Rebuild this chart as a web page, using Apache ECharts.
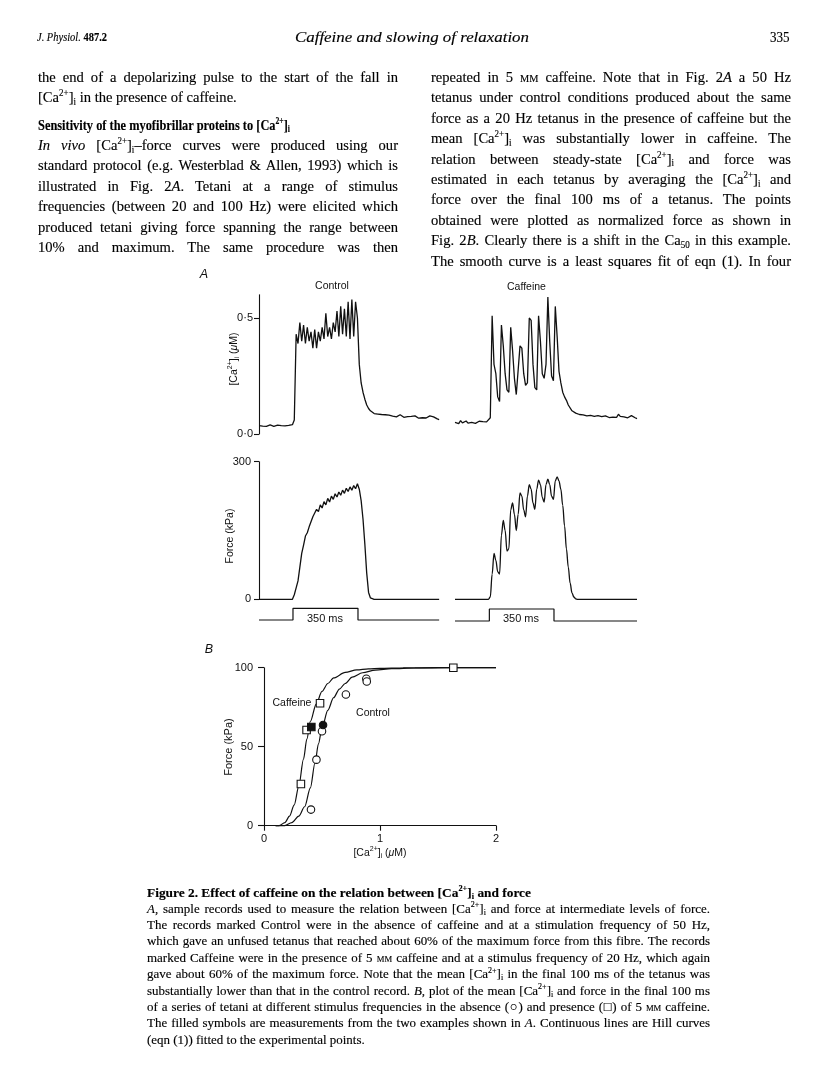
<!DOCTYPE html>
<html><head><meta charset="utf-8">
<title>Caffeine and slowing of relaxation</title>
<script src="https://cdn.jsdelivr.net/npm/echarts@6/dist/echarts.min.js"></script>
<style>
html,body{margin:0;padding:0;background:#fff}
#page{position:relative;width:816px;height:1088px;overflow:hidden;background:#fff}
#chart{position:absolute;left:0;top:0;width:816px;height:1088px}
.ln{position:absolute;white-space:nowrap;font-family:"Liberation Serif","Times New Roman",serif;color:#000;-webkit-text-stroke:0.15px #000;transform-origin:0 50%}
.ln sup,.ln sub{font-size:0.62em;line-height:0;position:relative;vertical-align:baseline}
.ln sup{top:-0.62em}.ln sub{top:0.28em}
.sc{font-variant:small-caps}
</style></head>
<body><div id="page"><div id="chart"></div></div>
<script>
// ---------------- DATA ----------------
const SAMPLE_MS = 10;               // sampling step of the traces (ms)
const TRACE_MAX_MS = 980;

// [Ca2+]i, Control (µM), 50 Hz tetanus
const ctrlCa = [0.036,0.038,0.034,0.037,0.033,0.036,0.039,0.036,0.033,0.035,0.038,0.034,0.036,0.039,0.035,0.033,0.037,0.034,0.040,
0.06,
0.43,0.39,0.48,0.40,0.47,0.39,0.46,0.40,0.44,0.37,0.45,0.37,0.44,0.40,0.46,0.41,0.52,0.42,0.46,0.41,0.48,0.44,0.53,0.42,0.55,0.43,0.54,0.42,0.57,0.41,0.58,0.42,0.57,0.50,
0.30,0.22,0.18,0.15,0.125,0.11,0.10,0.092,0.088,0.082,0.086,0.080,0.084,
0.078,0.083,0.076,0.081,0.085,0.077,0.080,0.074,0.079,0.083,0.076,0.072,0.078,0.075,0.070,0.076,0.072,0.078,0.071,0.068,0.074,0.070,0.076,0.069,0.073,0.078,0.071,0.074,0.068,0.065,0.062];

// [Ca2+]i, Caffeine (µM), 20 Hz tetanus
const cafCa = [0.050,0.055,0.045,0.058,0.048,0.052,0.056,0.047,0.053,0.050,0.057,0.046,0.052,0.055,0.049,0.053,0.050,0.052,0.051,
0.07,
0.51,0.30,0.26,0.16,0.14, 0.47,0.38,0.26,0.19,0.18, 0.46,0.36,0.24,0.17,0.17, 0.38,0.37,0.26,0.21,0.22, 0.50,0.49,0.30,0.20,0.19, 0.51,0.40,0.26,0.24,0.30, 0.59,0.40,0.25,0.23, 0.55,0.42,0.27,0.22,
0.18,0.16,0.145,0.125,0.12,0.10,0.105,0.09,0.088,0.084,0.09,0.082,0.086,
0.078,0.083,0.080,0.085,0.076,0.074,0.079,0.083,0.075,0.072,0.078,0.074,0.071,0.077,0.073,0.079,0.072,0.085,0.076,0.071,0.074,0.078,0.070,0.075,0.079,0.072,0.070,0.066];

// Force, Control (kPa)
const ctrlForce = [0,0,0,0,0,0,0,0,0,0,0,0,0,0,0,0,0,0,0,
10,25,40,70,100,118,138,145,158,162,180,188,196,191,206,199,213,206,220,212,225,218,230,223,234,227,238,231,242,235,245,238,248,241,252,240,215,175,120,57,15,3,0,
0,0,0,0,0,0,0,0,0,0,0,0,0,0,0,0,0,0,0,0,0,0,0,0,0,0,0,0,0,0,0,0,0,0,0,0];

// Force, Caffeine (kPa)
const cafForce = [0,0,0,0,0,0,0,0,0,0,0,0,0,0,0,0,0,0,0,
5,55,100,85,60,55,140,172,150,105,110,195,210,185,150,185,232,225,195,180,225,250,240,210,196,240,260,250,222,212,250,262,250,225,218,258,267,258,240,205,160,110,70,35,14,5,1,
0,0,0,0,0,0,0,0,0,0,0,0,0,0,0,0,0,0,0,0,0,0,0,0,0,0,0,0,0,0,0,0,0];

// Stimulus marker (350 ms pulse)
const pulseCtrlT = [0,183,183,533,533,970];
const pulseCafT  = [0,185,185,533,533,980];
const pulseLevel = [0,0,1,1,0,0];

// Axis ticks
const caTicks = [0, 0.5];
const forceTicks = [0, 300];

// Panel B: normalized force vs [Ca2+]i
const cafOpenX = [1.632, 0.483, 0.367, 0.318];
const cafOpenY = [100, 77.5, 60.6, 26.4];
const cafFilledX = [0.408];
const cafFilledY = [62.5];
const ctrlOpenX = [0.882, 0.886, 0.706, 0.500, 0.452, 0.405];
const ctrlOpenY = [93.0, 91.3, 83.0, 59.8, 41.8, 10.2];
const ctrlFilledX = [0.509];
const ctrlFilledY = [63.7];

// Hill curves
const cafCurveX = [0.10,0.13,0.18,0.22,0.26,0.30,0.34,0.37,0.40,0.45,0.50,0.55,0.60,0.70,0.80,0.90,1.00,1.20,1.50,2.00];
const cafCurveY = [0,0,2,6,13,25,42,55,66,77,85,90,93.5,97,98.6,99.3,99.6,99.9,100,100];
const ctrlCurveX = [0.10,0.18,0.24,0.30,0.35,0.40,0.44,0.47,0.50,0.55,0.60,0.65,0.70,0.76,0.85,0.96,1.10,1.30,1.60,2.00];
const ctrlCurveY = [0,0,2,6,12,24,40,52,62,73,81,86.5,90,94,96.8,98.5,99.4,99.8,100,100];

// ---------------- PAGE TEXT ----------------
const page = document.getElementById('page');
const CA = '[Ca<sup>2+</sup>]<sub>i</sub>';
const MM = '<span class="sc">mm</span>';
const LX = 38, RX = 431, CW = 360;
const body = {fs:15.5, lh:20, k:0.94};
const cap = {fs:13.5, lh:16, k:0.96};
const RY = k => 77 + 20.4 * k;
const LY = k => 145 + 20.4 * k;
const CY = k => 908.5 + 16.4 * k;
const lines = [
  {x:37, y:37, w:70, mode:'f', fs:12, lh:16, i:1, html:'J. Physiol. <b style="font-style:normal">487.2</b>'},
  {x:295, y:37, w:234, mode:'f', fs:15.5, lh:18, i:1, html:'Caffeine and slowing of relaxation'},
  {x:790, y:37, mode:'r', fs:14.5, lh:18, k:0.9, html:'335'},

  {x:LX, y:77, w:CW, mode:'j', ...body, html:'the end of a depolarizing pulse to the start of the fall in'},
  {x:LX, y:97.4, mode:'l', ...body, html:CA+' in the presence of caffeine.'},
  {x:LX, y:124.5, w:252, mode:'f', fs:15, lh:18, b:1, html:'Sensitivity of the myofibrillar proteins to '+CA},
  {x:LX, y:LY(0), w:CW, mode:'j', ...body, html:'<i>In vivo</i> '+CA+'–force curves were produced using our'},
  {x:LX, y:LY(1), w:CW, mode:'j', ...body, html:'standard protocol (e.g. Westerblad &amp; Allen, 1993) which is'},
  {x:LX, y:LY(2), w:CW, mode:'j', ...body, html:'illustrated in Fig. 2<i>A</i>. Tetani at a range of stimulus'},
  {x:LX, y:LY(3), w:CW, mode:'j', ...body, html:'frequencies (between 20 and 100 Hz) were elicited which'},
  {x:LX, y:LY(4), w:CW, mode:'j', ...body, html:'produced tetani giving force spanning the range between'},
  {x:LX, y:LY(5), w:CW, mode:'j', ...body, html:'10% and maximum. The same procedure was then'},

  {x:RX, y:RY(0), w:CW, mode:'j', ...body, html:'repeated in 5 '+MM+' caffeine. Note that in Fig. 2<i>A</i> a 50 Hz'},
  {x:RX, y:RY(1), w:CW, mode:'j', ...body, html:'tetanus under control conditions produced about the same'},
  {x:RX, y:RY(2), w:CW, mode:'j', ...body, html:'force as a 20 Hz tetanus in the presence of caffeine but the'},
  {x:RX, y:RY(3), w:CW, mode:'j', ...body, html:'mean '+CA+' was substantially lower in caffeine. The'},
  {x:RX, y:RY(4), w:CW, mode:'j', ...body, html:'relation between steady-state '+CA+' and force was'},
  {x:RX, y:RY(5), w:CW, mode:'j', ...body, html:'estimated in each tetanus by averaging the '+CA+' and'},
  {x:RX, y:RY(6), w:CW, mode:'j', ...body, html:'force over the final 100 ms of a tetanus. The points'},
  {x:RX, y:RY(7), w:CW, mode:'j', ...body, html:'obtained were plotted as normalized force as shown in'},
  {x:RX, y:RY(8), w:CW, mode:'j', ...body, html:'Fig. 2<i>B</i>. Clearly there is a shift in the Ca<sub>50</sub> in this example.'},
  {x:RX, y:RY(9), w:CW, mode:'j', ...body, html:'The smooth curve is a least squares fit of eqn (1). In four'},

  {x:147, y:892, w:384, mode:'f', fs:13.5, lh:17, b:1, html:'Figure 2. Effect of caffeine on the relation between '+CA+' and force'},
  {x:147, y:CY(0), w:563, mode:'j', ...cap, html:'<i>A</i>, sample records used to measure the relation between '+CA+' and force at intermediate levels of force.'},
  {x:147, y:CY(1), w:563, mode:'j', ...cap, html:'The records marked Control were in the absence of caffeine and at a stimulation frequency of 50 Hz,'},
  {x:147, y:CY(2), w:563, mode:'j', ...cap, html:'which gave an unfused tetanus that reached about 60% of the maximum force from this fibre. The records'},
  {x:147, y:CY(3), w:563, mode:'j', ...cap, html:'marked Caffeine were in the presence of 5 '+MM+' caffeine and at a stimulus frequency of 20 Hz, which again'},
  {x:147, y:CY(4), w:563, mode:'j', ...cap, html:'gave about 60% of the maximum force. Note that the mean '+CA+' in the final 100 ms of the tetanus was'},
  {x:147, y:CY(5), w:563, mode:'j', ...cap, html:'substantially lower than that in the control record. <i>B</i>, plot of the mean '+CA+' and force in the final 100 ms'},
  {x:147, y:CY(6), w:563, mode:'j', ...cap, html:'of a series of tetani at different stimulus frequencies in the absence (○) and presence (□) of 5 '+MM+' caffeine.'},
  {x:147, y:CY(7), w:563, mode:'j', ...cap, html:'The filled symbols are measurements from the two examples shown in <i>A</i>. Continuous lines are Hill curves'},
  {x:147, y:CY(8), mode:'l', ...cap, html:'(eqn (1)) fitted to the experimental points.'}
];

function addLine(s){
  const d = document.createElement('div');
  d.className = 'ln';
  d.style.fontSize = s.fs + 'px';
  d.style.lineHeight = s.lh + 'px';
  d.style.top = (s.y - s.lh/2) + 'px';
  d.style.left = s.x + 'px';
  if (s.b) d.style.fontWeight = 'bold';
  if (s.i) d.style.fontStyle = 'italic';
  d.innerHTML = s.html;
  page.appendChild(d);
  const w = d.getBoundingClientRect().width;
  const k = s.k || 1;
  let left = s.x, sx = k;
  if (s.mode === 'j') {
    if (w * k >= s.w) { sx = s.w / w; }
    else {
      d.style.whiteSpace = 'normal';
      d.style.width = (s.w / k) + 'px';
      d.style.textAlign = 'justify';
      d.style.textAlignLast = 'justify';
    }
  } else if (s.mode === 'f') { sx = s.w / w; }
  else if (s.mode === 'r') { left = s.x - w * k; }
  d.style.left = left + 'px';
  d.style.transform = 'scaleX(' + sx + ')';
}
lines.forEach(addLine);

// ---------------- CHART ----------------
const FONT = '"Liberation Sans", Arial, Helvetica, sans-serif';
const INK = '#111';
const toSeries = arr => arr.map((v, i) => [i * SAMPLE_MS, v]);
const zip = (xs, ys) => xs.map((x, i) => [x, ys[i]]);

const chart = echarts.init(document.getElementById('chart'), null, {renderer:'canvas'});

const hiddenX = g => ({type:'value', gridIndex:g, min:0, max:TRACE_MAX_MS, show:false});
const hiddenY = (g, mn, mx) => ({type:'value', gridIndex:g, min:mn, max:mx, show:false});
const axLine = {show:true, onZero:false, lineStyle:{color:INK, width:1.1}};
const axTick = (len, vals) => { const t = {show:true, length:len, inside:false, lineStyle:{color:INK, width:1.1}}; if (vals) t.customValues = vals; return t; };
const axLabel = (margin, vals, fmt) => { const l = {show:true, margin, fontSize:11, fontFamily:FONT, color:INK}; if (vals) l.customValues = vals; if (fmt) l.formatter = fmt; return l; };

const grids = [
  {left:259, top:294.8, width:182, height:139.2}, // 0 Ca control
  {left:455, top:294.8, width:182, height:139.2}, // 1 Ca caffeine
  {left:259, top:461.7, width:182, height:137.6}, // 2 force control
  {left:455, top:461.7, width:182, height:137.6}, // 3 force caffeine
  {left:259, top:608.3, width:182, height:11.7},  // 4 pulse control
  {left:455, top:609,   width:182, height:12},    // 5 pulse caffeine
  {left:264, top:667.7, width:232, height:158}    // 6 panel B
].map(g => Object.assign({outerBoundsMode:'none', containLabel:false, show:false}, g));

const lineS = (xi, yi, data, extra) => Object.assign({
  type:'line', xAxisIndex:xi, yAxisIndex:yi, data, showSymbol:false, symbol:'none',
  lineStyle:{color:INK, width:1.3}, silent:true, clip:false, animation:false, z:3
}, extra || {});

const scatterS = (xs, ys, symbol, filled) => ({
  type:'scatter', xAxisIndex:6, yAxisIndex:6, data:zip(xs, ys), symbol, symbolSize:7.5,
  itemStyle:{color: filled ? INK : '#fff', borderColor:INK, borderWidth:1.1, opacity:1},
  silent:true, clip:false, animation:false, z:5
});

const rich = {
  n:  {fontSize:10.5, fontFamily:FONT, fill:INK, color:INK, lineHeight:14},
  it: {fontSize:10.5, fontFamily:FONT, fontStyle:'italic', fill:INK, color:INK, lineHeight:14},
  sup:{fontSize:7, fontFamily:FONT, fill:INK, color:INK, verticalAlign:'top', lineHeight:14},
  sub:{fontSize:7, fontFamily:FONT, fill:INK, color:INK, verticalAlign:'bottom', lineHeight:14}
};
const caLabel = '{n|[Ca}{sup|2+}{n|]}{sub|i}{n| (}{it|μ}{n|M)}';
const txt = (x, y, text, opt) => Object.assign({
  type:'text', x, y, silent:true, z:10,
  style:Object.assign({text, fontSize:10.5, fontFamily:FONT, fill:INK, align:'center', verticalAlign:'middle'}, (opt && opt.style) || {})
}, (opt && opt.el) || {});

const option = {
  backgroundColor:'transparent',
  animation:false,
  grid:grids,
  xAxis:[
    hiddenX(0), hiddenX(1), hiddenX(2), hiddenX(3), hiddenX(4), hiddenX(5),
    {type:'value', gridIndex:6, min:0, max:2, interval:1, axisLine:axLine, axisTick:axTick(5),
     axisLabel:axLabel(8), splitLine:{show:false}}
  ],
  yAxis:[
    {type:'value', gridIndex:0, min:0, max:0.6, axisLine:axLine, axisTick:axTick(5, caTicks),
     axisLabel:axLabel(6, caTicks, v => v.toFixed(1).replace('.', '·')), splitLine:{show:false}},
    hiddenY(1, 0, 0.6),
    {type:'value', gridIndex:2, min:0, max:300, axisLine:axLine, axisTick:axTick(5, forceTicks),
     axisLabel:axLabel(8, forceTicks), splitLine:{show:false}},
    hiddenY(3, 0, 300),
    hiddenY(4, 0, 1),
    hiddenY(5, 0, 1),
    {type:'value', gridIndex:6, min:0, max:100, interval:50, axisLine:axLine, axisTick:axTick(6),
     axisLabel:axLabel(11), splitLine:{show:false}}
  ],
  series:[
    lineS(0, 0, toSeries(ctrlCa)),
    lineS(1, 1, toSeries(cafCa)),
    lineS(2, 2, toSeries(ctrlForce)),
    lineS(3, 3, toSeries(cafForce), {smooth:0.35, smoothMonotone:'x'}),
    lineS(4, 4, zip(pulseCtrlT, pulseLevel), {lineStyle:{color:INK, width:1.2}}),
    lineS(5, 5, zip(pulseCafT, pulseLevel), {lineStyle:{color:INK, width:1.2}}),
    lineS(6, 6, zip(cafCurveX, cafCurveY), {smooth:0.3, smoothMonotone:'x', lineStyle:{color:INK, width:1.2}}),
    lineS(6, 6, zip(ctrlCurveX, ctrlCurveY), {smooth:0.3, smoothMonotone:'x', lineStyle:{color:INK, width:1.2}}),
    scatterS(cafOpenX, cafOpenY, 'rect', false),
    scatterS(cafFilledX, cafFilledY, 'rect', true),
    scatterS(ctrlOpenX, ctrlOpenY, 'circle', false),
    scatterS(ctrlFilledX, ctrlFilledY, 'circle', true)
  ],
  graphic:[
    txt(204, 275, 'A', {style:{fontSize:12.5, fontStyle:'italic'}}),
    txt(332, 286.5, 'Control'),
    txt(526.5, 287, 'Caffeine'),
    txt(234, 359, caLabel, {style:{rich}, el:{rotation:Math.PI/2}}),
    txt(230, 536, 'Force (kPa)', {el:{rotation:Math.PI/2}}),
    txt(325, 618.5, '350 ms', {style:{fontSize:11}}),
    txt(521, 618.5, '350 ms', {style:{fontSize:11}}),
    txt(209, 649.5, 'B', {style:{fontSize:12.5, fontStyle:'italic'}}),
    txt(229, 747, 'Force (kPa)', {style:{fontSize:11}, el:{rotation:Math.PI/2}}),
    txt(380, 853, caLabel, {style:{rich}}),
    txt(292, 703.5, 'Caffeine'),
    txt(373, 713, 'Control')
  ]
};
chart.setOption(option);
</script>
</body></html>
